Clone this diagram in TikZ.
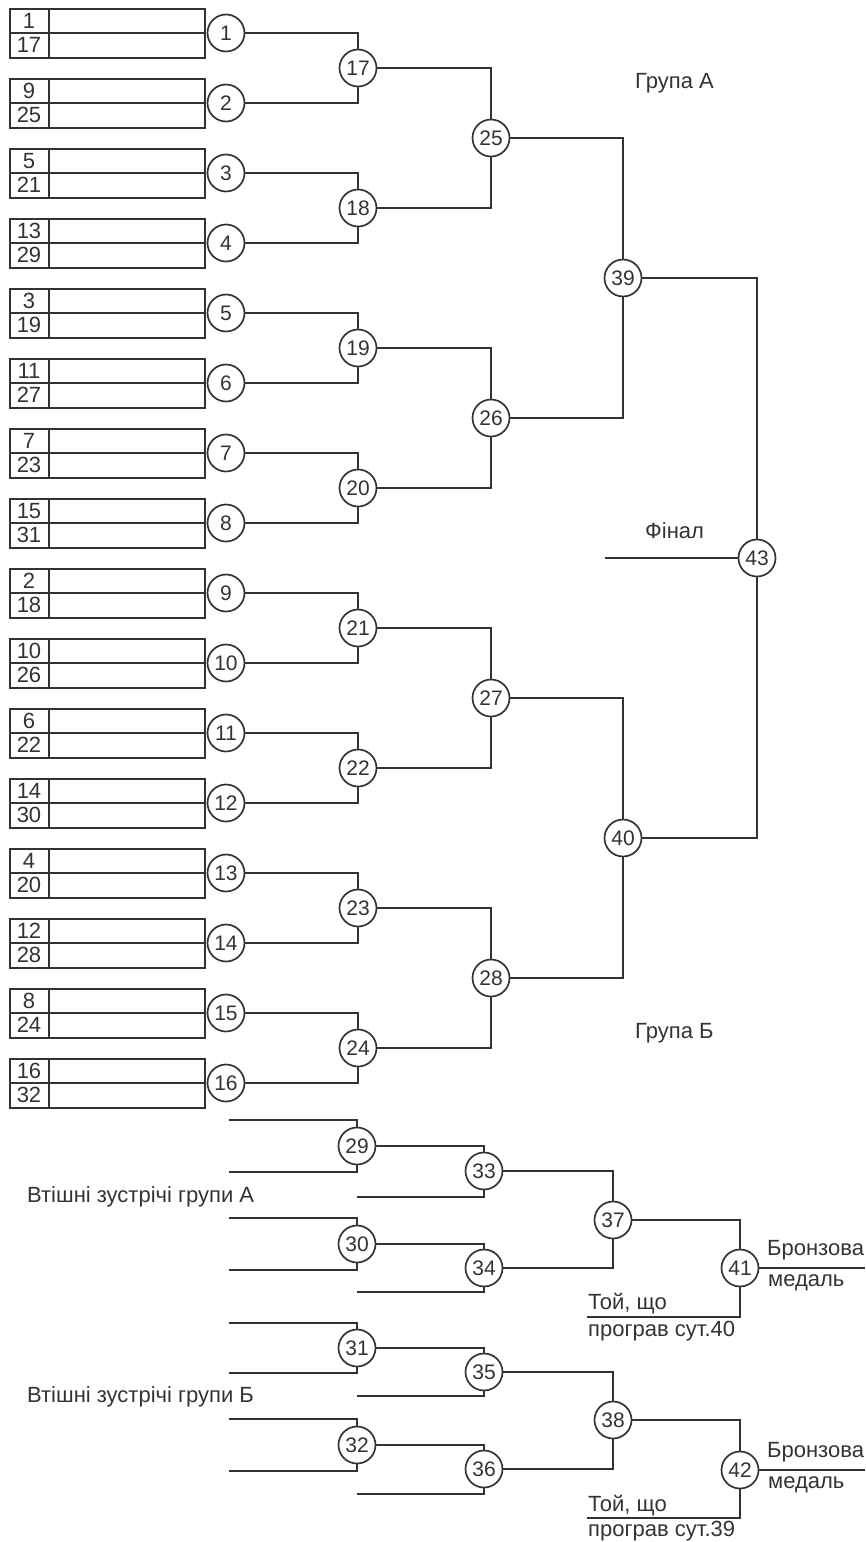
\documentclass[tikz,border=0pt]{standalone}
\usepackage{fontspec}
\setmainfont{Liberation Sans}
\definecolor{lc}{HTML}{333333}
\definecolor{tc}{HTML}{333333}
\tikzset{
  ln/.style={draw=lc, line width=2pt},
  mc/.style={circle, draw=lc, line width=1.7pt, fill=white, minimum size=37pt, inner sep=0pt, font=\fontsize{21}{21}\selectfont, text=tc},
  bx/.style={rectangle, draw=lc, line width=2pt, minimum width=195pt, minimum height=49pt, inner sep=0pt},
  num/.style={font=\fontsize{22}{22}\selectfont, text=tc, inner sep=0pt},
  lbl/.style={font=\fontsize{22}{22}\selectfont, text=tc, inner sep=0pt, anchor=west},
}
\begin{document}
\begin{tikzpicture}[x=1pt,y=-1pt]
\useasboundingbox (0,0) rectangle (865,1542);
\fill[white] (0,0) rectangle (865,1542);
% first round boxes and circles
\foreach \i/\a/\b in {1/1/17,2/9/25,3/5/21,4/13/29,5/3/19,6/11/27,7/7/23,8/15/31,9/2/18,10/10/26,11/6/22,12/14/30,13/4/20,14/12/28,15/8/24,16/16/32}{
  \pgfmathsetmacro{\y}{33+70*(\i-1)}
  \node[bx] (b\i) at (107.5,\y) {};
  \draw[ln] (b\i.west) -- (b\i.east);
  \draw[ln] ([xshift=40pt]b\i.north west) -- ([xshift=40pt]b\i.south west);
  \node[num] (p\i) at ([xshift=20pt,yshift=12pt]b\i.west) {\a};
  \node[num] (q\i) at ([xshift=20pt,yshift=-12pt]b\i.west) {\b};
  \node[mc] (m\i) at (226,\y) {\i};
}
% second round
\foreach \k in {1,...,8}{
  \pgfmathsetmacro{\y}{68+140*(\k-1)}
  \pgfmathtruncatemacro{\n}{16+\k}
  \pgfmathtruncatemacro{\a}{2*\k-1}
  \pgfmathtruncatemacro{\b}{2*\k}
  \draw[ln] (m\a.east) -| (358,\y);
  \draw[ln] (m\b.east) -| (358,\y);
  \node[mc] (m\n) at (358,\y) {\n};
}
% third round
\foreach \k in {1,...,4}{
  \pgfmathsetmacro{\y}{138+280*(\k-1)}
  \pgfmathtruncatemacro{\n}{24+\k}
  \pgfmathtruncatemacro{\a}{16+2*\k-1}
  \pgfmathtruncatemacro{\b}{16+2*\k}
  \draw[ln] (m\a.east) -| (491,\y);
  \draw[ln] (m\b.east) -| (491,\y);
  \node[mc] (m\n) at (491,\y) {\n};
}
% semifinals
\draw[ln] (m25.east) -| (623,278);
\draw[ln] (m26.east) -| (623,278);
\node[mc] (m39) at (623,278) {39};
\draw[ln] (m27.east) -| (623,838);
\draw[ln] (m28.east) -| (623,838);
\node[mc] (m40) at (623,838) {40};
% final
\coordinate (f0) at (605,558);
\draw[ln] (m39.east) -| (757,558);
\draw[ln] (m40.east) -| (757,558);
\draw[ln] (f0) -- (757,558);
\node[mc] (m43) at (757,558) {43};
\node[lbl] (lfin) at (645,531) {Фінал};
\node[lbl] (lga) at (635,83) {Група А};
\node[lbl] (lgb) at (635,1033) {Група Б};
% consolation inputs
\coordinate (i1) at (229,1120);
\coordinate (i2) at (229,1172);
\coordinate (i3) at (229,1218);
\coordinate (i4) at (229,1270);
\coordinate (i5) at (229,1323);
\coordinate (i6) at (229,1373);
\coordinate (i7) at (229,1419);
\coordinate (i8) at (229,1471);
\coordinate (j1) at (357,1197);
\coordinate (j2) at (357,1292);
\coordinate (j3) at (357,1396);
\coordinate (j4) at (357,1494);
\coordinate (k1) at (587,1317);
\coordinate (k2) at (587,1518);
\coordinate (o1) at (865,1268);
\coordinate (o2) at (865,1470);
\draw[ln] (i1) -| (357,1146);
\draw[ln] (i2) -| (357,1146);
\node[mc] (m29) at (357,1146) {29};
\draw[ln] (i3) -| (357,1244);
\draw[ln] (i4) -| (357,1244);
\node[mc] (m30) at (357,1244) {30};
\draw[ln] (i5) -| (357,1348);
\draw[ln] (i6) -| (357,1348);
\node[mc] (m31) at (357,1348) {31};
\draw[ln] (i7) -| (357,1445);
\draw[ln] (i8) -| (357,1445);
\node[mc] (m32) at (357,1445) {32};
\draw[ln] (m29.east) -| (484,1171);
\draw[ln] (j1) -| (484,1171);
\node[mc] (m33) at (484,1171) {33};
\draw[ln] (m30.east) -| (484,1268);
\draw[ln] (j2) -| (484,1268);
\node[mc] (m34) at (484,1268) {34};
\draw[ln] (m31.east) -| (484,1372);
\draw[ln] (j3) -| (484,1372);
\node[mc] (m35) at (484,1372) {35};
\draw[ln] (m32.east) -| (484,1469);
\draw[ln] (j4) -| (484,1469);
\node[mc] (m36) at (484,1469) {36};
\draw[ln] (m33.east) -| (613,1220);
\draw[ln] (m34.east) -| (613,1220);
\node[mc] (m37) at (613,1220) {37};
\draw[ln] (m35.east) -| (613,1420);
\draw[ln] (m36.east) -| (613,1420);
\node[mc] (m38) at (613,1420) {38};
\draw[ln] (m37.east) -| (740,1268);
\draw[ln] (k1) -| (740,1268);
\draw[ln] (740,1268) -- (o1);
\node[mc] (m41) at (740,1268) {41};
\draw[ln] (m38.east) -| (740,1470);
\draw[ln] (k2) -| (740,1470);
\draw[ln] (740,1470) -- (o2);
\node[mc] (m42) at (740,1470) {42};
% labels
\node[lbl] (la) at (27,1197) {Втішні зустрічі групи А};
\node[lbl] (lb) at (27,1397) {Втішні зустрічі групи Б};
\node[lbl] (br1) at (767,1250) {Бронзова};
\node[lbl] (md1) at (768,1283) {медаль};
\node[lbl] (br2) at (767,1452) {Бронзова};
\node[lbl] (md2) at (768,1485) {медаль};
\node[lbl] (t1) at (588,1304) {Той, що};
\node[lbl] (s1) at (588,1331) {програв сут.40};
\node[lbl] (t2) at (588,1506) {Той, що};
\node[lbl] (s2) at (588,1531) {програв сут.39};
\end{tikzpicture}
\end{document}
